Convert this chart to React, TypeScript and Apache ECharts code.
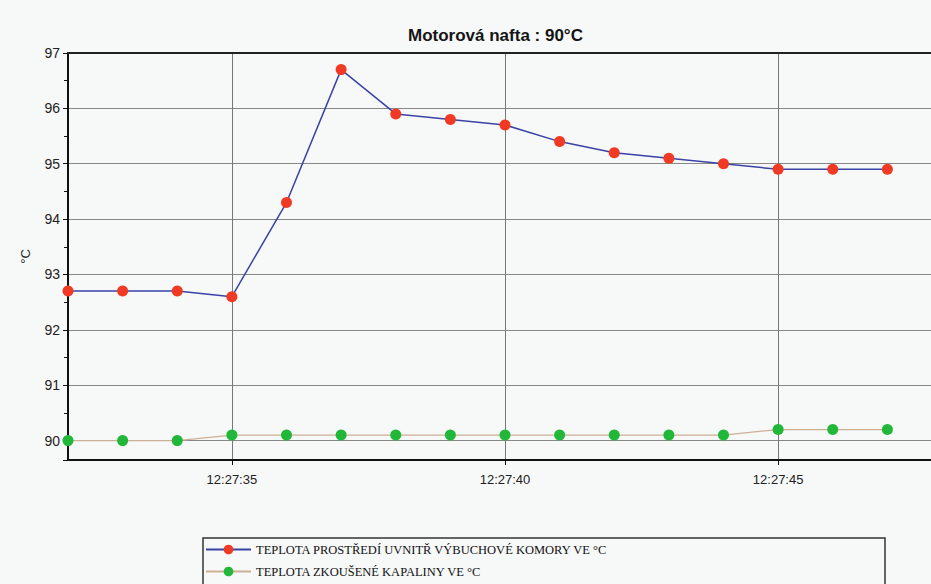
import React, { useEffect, useRef } from "react";
import * as echarts from "echarts";

const categories = [
  "12:27:32", "12:27:33", "12:27:34", "12:27:35", "12:27:36", "12:27:37",
  "12:27:38", "12:27:39", "12:27:40", "12:27:41", "12:27:42", "12:27:43",
  "12:27:44", "12:27:45", "12:27:46", "12:27:47", "12:27:48",
];
const shownLabels = ["12:27:35", "12:27:40", "12:27:45"];
const chamberTemp = [92.7, 92.7, 92.7, 92.6, 94.3, 96.7, 95.9, 95.8, 95.7, 95.4, 95.2, 95.1, 95.0, 94.9, 94.9, 94.9];
const liquidTemp = [90.0, 90.0, 90.0, 90.1, 90.1, 90.1, 90.1, 90.1, 90.1, 90.1, 90.1, 90.1, 90.1, 90.2, 90.2, 90.2];
const seriesNames = [
  "TEPLOTA PROSTŘEDÍ UVNITŘ VÝBUCHOVÉ KOMORY VE °C",
  "TEPLOTA ZKOUŠENÉ KAPALINY VE °C",
];
const titleText = "Motorová nafta : 90°C";
const yName = "°C";

export default function App() {
  const ref = useRef<HTMLDivElement>(null);
  useEffect(() => {
    document.body.style.margin = "0";
    const chart = echarts.init(ref.current!, null, { renderer: "svg" });
    const showAt = (_i: number, v: string) => shownLabels.indexOf(v) >= 0;
    chart.setOption({
      animation: false,
      backgroundColor: "#f7f8f8",
      title: {
        text: titleText,
        left: 403,
        top: 22,
        textStyle: { fontFamily: "Liberation Sans", fontSize: 17, fontWeight: "bold", color: "#151515" },
      },
      grid: { left: 68, top: 53, bottom: 124, right: -11, outerBoundsMode: "none", containLabel: false },
      legend: {
        orient: "vertical",
        left: 205,
        top: 543,
        itemWidth: 45,
        itemHeight: 12,
        itemGap: 9,
        padding: 0,
        textStyle: { fontFamily: "Liberation Serif", fontSize: 12.5, color: "#111" },
        data: seriesNames,
      },
      graphic: [
        {
          type: "rect",
          shape: { x: 203, y: 538, width: 682, height: 60 },
          style: { fill: "none", stroke: "#333", lineWidth: 1.5 },
        },
      ],
      xAxis: [
        {
          type: "category",
          data: categories,
          boundaryGap: false,
          axisLine: { lineStyle: { color: "#111", width: 2 } },
          axisTick: { show: true, length: 5, interval: showAt, lineStyle: { color: "#111" } },
          axisLabel: {
            interval: showAt,
            margin: 13,
            fontFamily: "Liberation Sans",
            fontSize: 13,
            color: "#222",
          },
          splitLine: { show: true, interval: showAt, lineStyle: { color: "#777", width: 1 } },
        },
        {
          type: "category",
          data: categories,
          boundaryGap: false,
          position: "top",
          axisLine: { lineStyle: { color: "#222", width: 2 } },
          axisTick: { show: false },
          axisLabel: { show: false },
          splitLine: { show: false },
        },
      ],
      yAxis: {
        type: "value",
        min: 89.65,
        max: 97,
        splitNumber: 8,
        name: yName,
        nameLocation: "middle",
        nameRotate: 90,
        nameGap: 36,
        nameTextStyle: { fontFamily: "Liberation Sans", fontSize: 13, color: "#222" },
        axisLine: { show: true, lineStyle: { color: "#111", width: 2 } },
        axisTick: { show: true, length: 5, lineStyle: { color: "#111" } },
        minorTick: { show: true, splitNumber: 2, length: 4, lineStyle: { color: "#111" } },
        axisLabel: {
          showMinLabel: false,
          margin: 8,
          fontFamily: "Liberation Sans",
          fontSize: 14,
          color: "#222",
        },
        splitLine: { show: true, lineStyle: { color: "#888", width: 1.2 } },
      },
      series: [
        {
          name: seriesNames[0],
          type: "line",
          data: chamberTemp,
          symbol: "circle",
          symbolSize: 11,
          lineStyle: { color: "#3a42a6", width: 1.5 },
          itemStyle: { color: "#f03a24" },
        },
        {
          name: seriesNames[1],
          type: "line",
          data: liquidTemp,
          symbol: "circle",
          symbolSize: 11,
          lineStyle: { color: "#cfae96", width: 1.2 },
          itemStyle: { color: "#21b83a" },
        },
      ],
    });
    return () => chart.dispose();
  }, []);
  return <div ref={ref} style={{ width: 931, height: 584 }} />;
}
